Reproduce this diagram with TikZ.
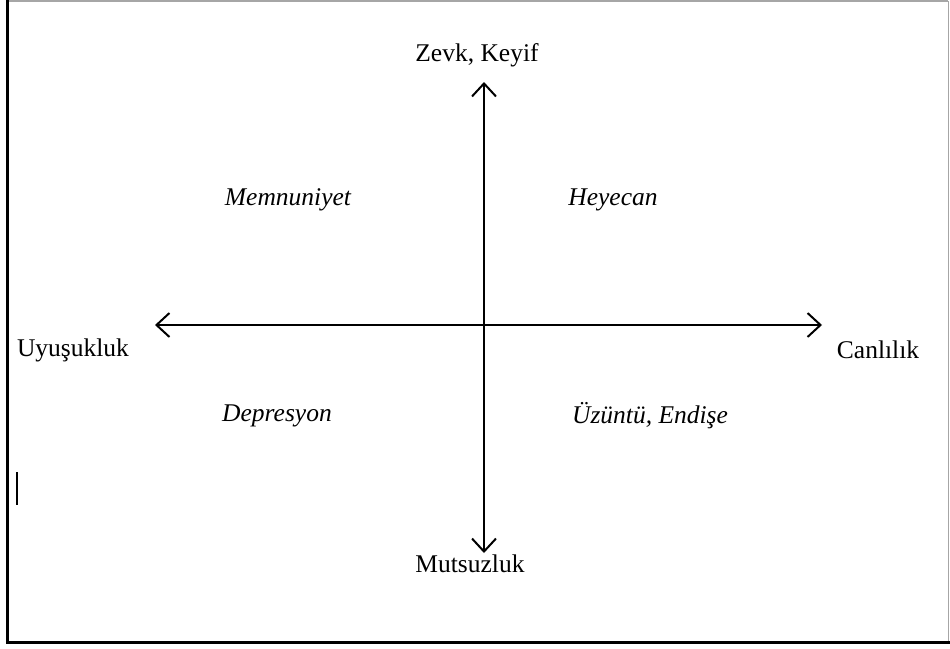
\documentclass[tikz,border=0pt]{standalone}
\usepackage{fontspec}
\setmainfont{Liberation Serif}
\usetikzlibrary{arrows.meta}
\begin{document}
\begin{tikzpicture}[x=1pt,y=-1pt,
  lbl/.style={inner sep=0pt,font=\fontsize{25.5}{30}\selectfont},
  ilbl/.style={inner sep=0pt,font=\fontsize{25.5}{30}\selectfont\itshape},
  axis/.style={line width=2pt,{Straight Barb[length=13pt,width=24pt,line width=2pt]}-{Straight Barb[length=13pt,width=24pt,line width=2pt]}}]
\useasboundingbox (0,0) rectangle (950,648);
% frame
\draw[line width=2pt,gray!70] (7,1) -- (948,1);
\draw[line width=1pt,gray!70] (948,1) -- (948,642);
\draw[line width=3pt,black] (7,0) -- (7,642) -- (950,642);
% axis end points
\coordinate (top) at (484,82);
\coordinate (bot) at (484,553);
\coordinate (lft) at (155,325);
\coordinate (rgt) at (822,325);
\draw[axis] (bot) -- (top);
\draw[axis] (lft) -- (rgt);
% labels
\node[lbl] (zevk) at (477,55) {Zevk, Keyif};
\node[lbl] (mutsuz) at (470,564) {Mutsuzluk};
\node[lbl] (uyus) at (73,350) {Uyuşukluk};
\node[lbl] (canli) at (878,350) {Canlılık};
\node[ilbl] (memn) at (288,200) {Memnuniyet};
\node[ilbl] (heye) at (613,200) {Heyecan};
\node[ilbl] (depr) at (277,416) {Depresyon};
\node[ilbl] (uzun) at (650,416) {Üzüntü, Endişe};
% text cursor
\coordinate (c1) at (17,472);
\coordinate (c2) at (17,505);
\draw[line width=1.5pt] (c1) -- (c2);
\end{tikzpicture}
\end{document}
